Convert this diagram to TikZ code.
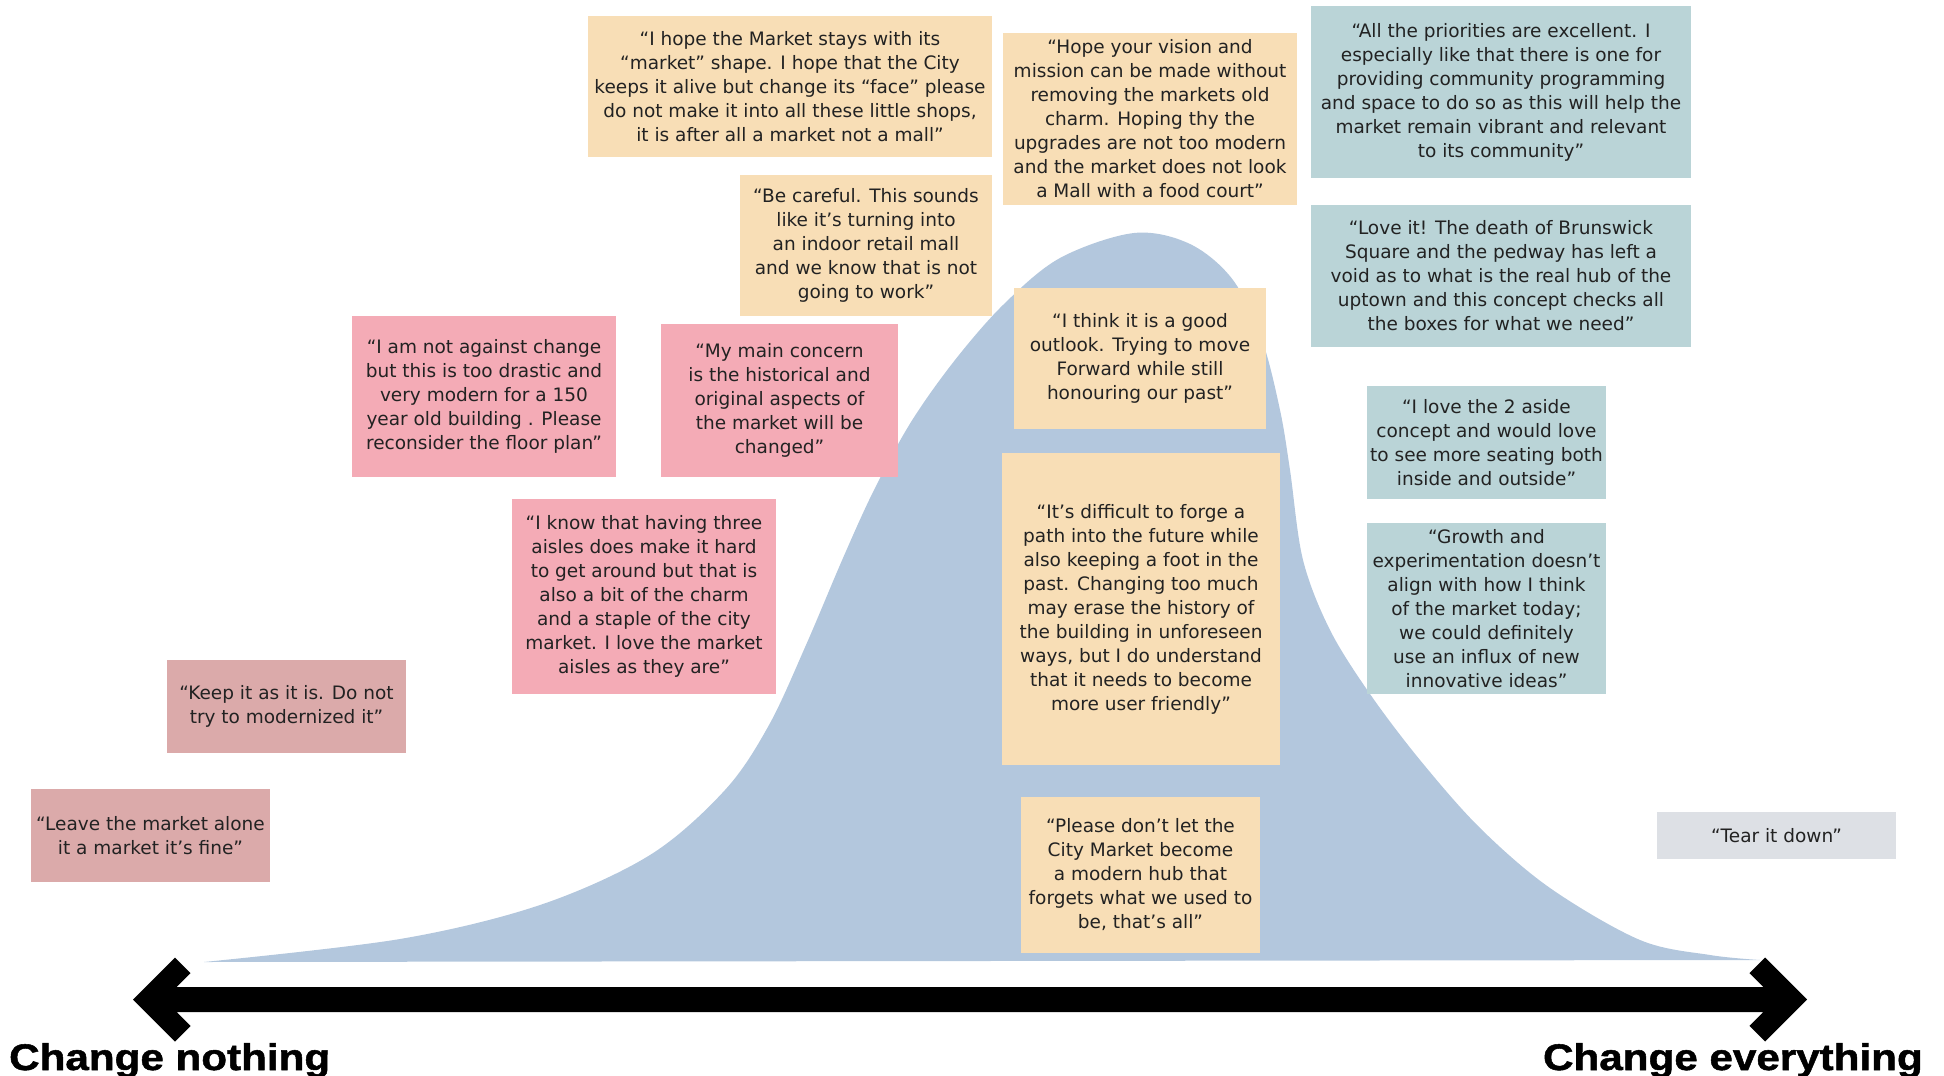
\documentclass[tikz,border=0pt]{standalone}
\usepackage{fontspec}
\setmainfont{DejaVu Sans}
\newfontfamily\labelfont[FakeStretch=1.14,BoldFeatures={FakeBold=1.4}]{Liberation Sans}
\definecolor{cyellow}{HTML}{F8DEB6}
\definecolor{cpink}{HTML}{F4ABB6}
\definecolor{crose}{HTML}{DBAAAA}
\definecolor{cteal}{HTML}{BAD4D7}
\definecolor{cgray}{HTML}{DDE0E5}
\definecolor{cblue}{HTML}{B3C7DD}
\definecolor{ctext}{HTML}{222222}
\tikzset{
  quote/.style={inner sep=0pt, align=center, text=ctext,
    font=\fontsize{18.5}{24}\selectfont},
  yel/.style={quote, fill=cyellow},
  pnk/.style={quote, fill=cpink},
  rse/.style={quote, fill=crose},
  tel/.style={quote, fill=cteal},
  gry/.style={quote, fill=cgray},
  endlabel/.style={inner sep=0pt, font=\labelfont\bfseries\fontsize{37}{40}\selectfont}
}
\begin{document}
\begin{tikzpicture}[x=1pt,y=-1pt]
\useasboundingbox (0,0) rectangle (1944,1076);
% bell curve
\fill[cblue] plot[smooth, tension=0.55] coordinates {
 (204,962) (400,939) (540,905) (650,855) (725,790) (769,725) (806,645)
 (843,558) (874,490) (911,422) (955,360) (1004,304) (1060,258) (1134,233)
 (1190,244) (1233,280) (1262,340) (1280,410) (1290,470) (1303,560)
 (1330,630) (1370,694) (1420,760) (1480,828) (1550,888) (1640,940)
 (1710,955) (1760,960)} -- cycle;
% double arrow
\fill[black] (133,999.5) -- (175,957.5) -- (190.6,973.1) -- (176.7,987)
  -- (1763.3,987) -- (1749.4,973.1) -- (1765,957.5) -- (1807,999.5)
  -- (1765,1041.5) -- (1749.4,1025.9) -- (1763.3,1012) -- (176.7,1012)
  -- (190.6,1025.9) -- (175,1041.5) -- cycle;
\node[endlabel, anchor=base west] (lnothing) at (9,1070) {Change nothing};
\node[endlabel, anchor=base east] (leverything) at (1923,1070) {Change everything};
% quotes
\node[yel, minimum width=404, minimum height=141] (hope) at (790,86.5)
 {“I hope the Market stays with its\\“market” shape. I hope that the City\\keeps it alive but change its “face” please\\do not make it into all these little shops,\\it is after all a market not a mall”};
\node[yel, minimum width=294, minimum height=172] (vision) at (1150,119)
 {“Hope your vision and\\mission can be made without\\removing the markets old\\charm. Hoping thy the\\upgrades are not too modern\\and the market does not look\\a Mall with a food court”};
\node[tel, minimum width=380, minimum height=172] (priorities) at (1501,92)
 {“All the priorities are excellent. I\\especially like that there is one for\\providing community programming\\and space to do so as this will help the\\market remain vibrant and relevant\\to its community”};
\node[tel, minimum width=380, minimum height=142] (loveit) at (1501,276)
 {“Love it! The death of Brunswick\\Square and the pedway has left a\\void as to what is the real hub of the\\uptown and this concept checks all\\the boxes for what we need”};
\node[yel, minimum width=252, minimum height=141] (careful) at (866,245.5)
 {“Be careful. This sounds\\like it’s turning into\\an indoor retail mall\\and we know that is not\\going to work”};
\node[pnk, minimum width=264, minimum height=161] (against) at (484,396.5)
 {“I am not against change\\but this is too drastic and\\very modern for a 150\\year old building . Please\\reconsider the floor plan”};
\node[pnk, minimum width=237, minimum height=153] (concern) at (779.5,400.5)
 {“My main concern\\is the historical and\\original aspects of\\the market will be\\changed”};
\node[pnk, minimum width=264, minimum height=195] (aisles) at (644,596.5)
 {“I know that having three\\aisles does make it hard\\to get around but that is\\also a bit of the charm\\and a staple of the city\\market. I love the market\\aisles as they are”};
\node[rse, minimum width=239, minimum height=93] (keep) at (286.5,706.5)
 {“Keep it as it is. Do not\\try to modernized it”};
\node[rse, minimum width=239, minimum height=93] (leave) at (150.5,835.5)
 {“Leave the market alone\\it a market it’s fine”};
\node[yel, minimum width=252, minimum height=141] (outlook) at (1140,358.5)
 {“I think it is a good\\outlook. Trying to move\\Forward while still\\honouring our past”};
\node[yel, minimum width=278, minimum height=312] (difficult) at (1141,609)
 {“It’s difficult to forge a\\path into the future while\\also keeping a foot in the\\past. Changing too much\\may erase the history of\\the building in unforeseen\\ways, but I do understand\\that it needs to become\\more user friendly”};
\node[tel, minimum width=239, minimum height=113] (aside) at (1486.5,442.5)
 {“I love the 2 aside\\concept and would love\\to see more seating both\\inside and outside”};
\node[tel, minimum width=239, minimum height=171] (growth) at (1486.5,608.5)
 {“Growth and\\experimentation doesn’t\\align with how I think\\of the market today;\\we could definitely\\use an influx of new\\innovative ideas”};
\node[yel, minimum width=239, minimum height=156] (pleasedont) at (1140.5,875)
 {“Please don’t let the\\City Market become\\a modern hub that\\forgets what we used to\\be, that’s all”};
\node[gry, minimum width=239, minimum height=47] (tear) at (1776.5,835.5)
 {“Tear it down”};
\end{tikzpicture}
\end{document}
